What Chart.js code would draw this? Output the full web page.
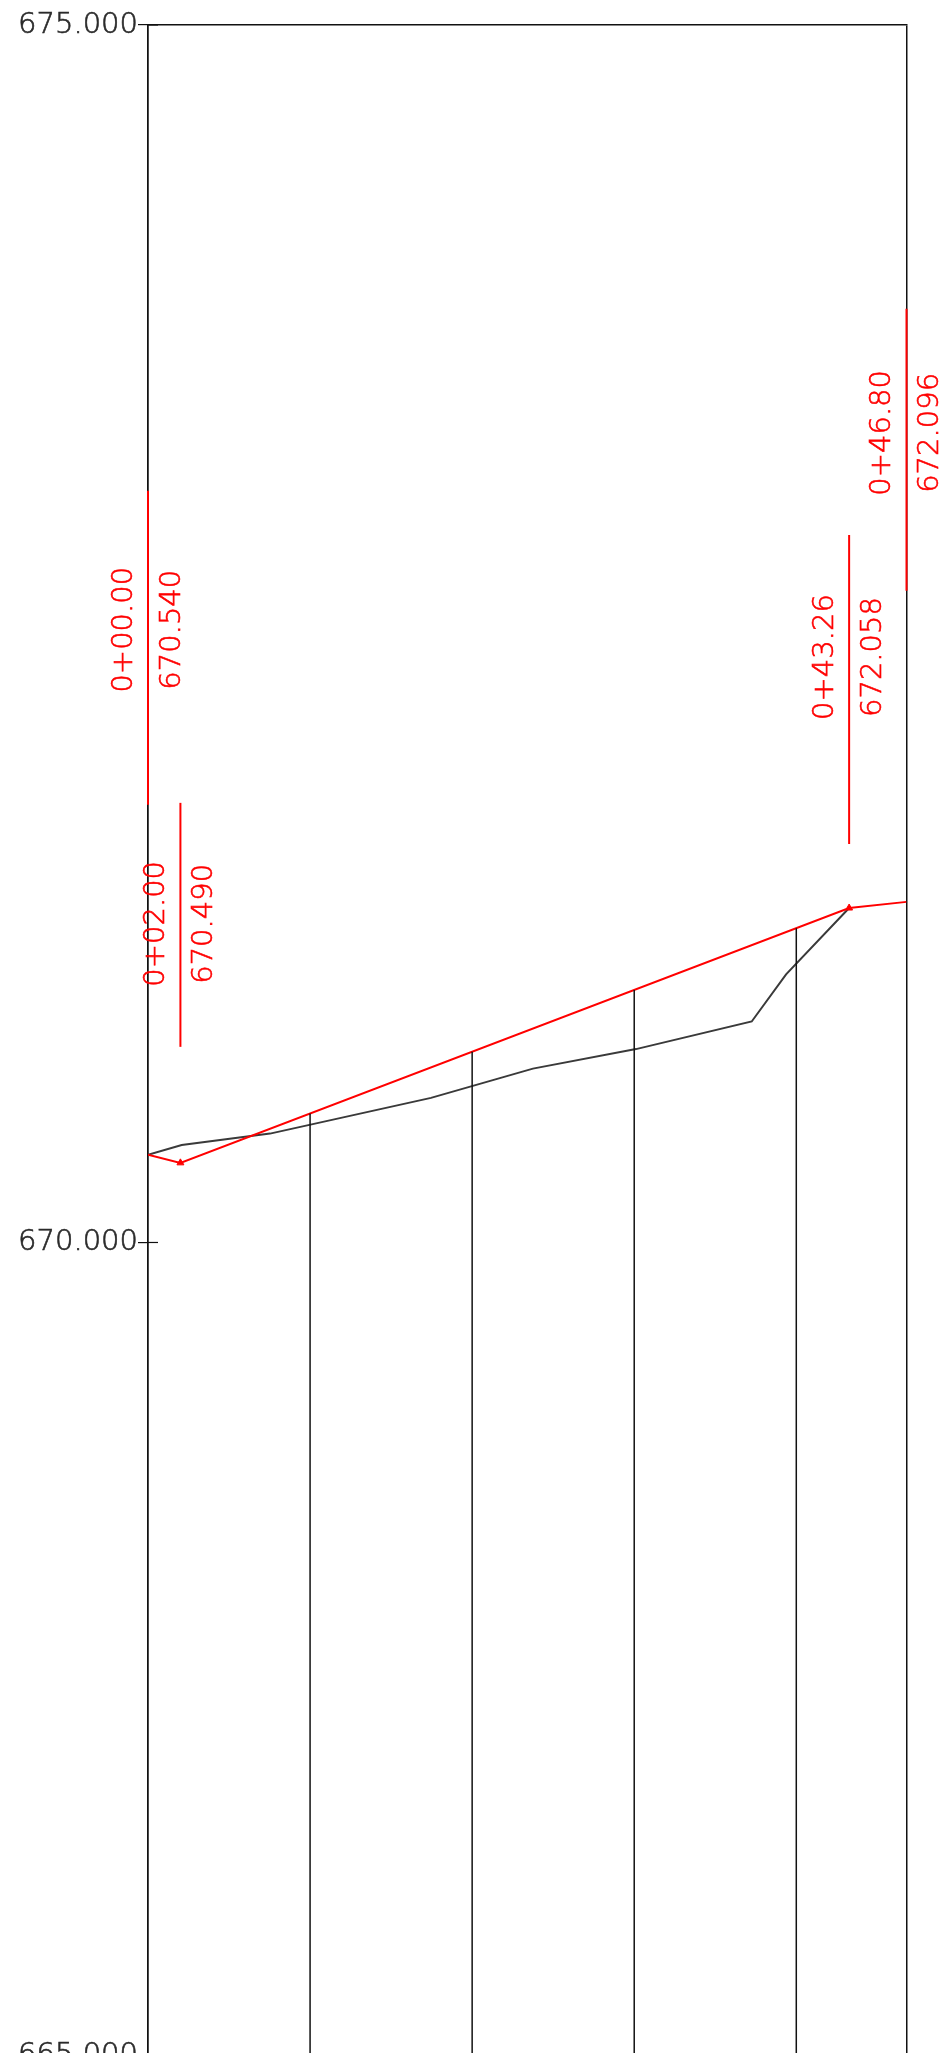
<!DOCTYPE html>
<html>
<head>
<meta charset="utf-8">
<script src="https://cdn.jsdelivr.net/npm/chart.js@4"></script>
<style>
  html, body { margin: 0; padding: 0; background: #fff; overflow: hidden; }
  #wrap { width: 944px; height: 2057px; position: relative; }
</style>
</head>
<body>
<div id="wrap"><canvas id="profile"></canvas></div>
<script>
// 計画線（赤）の測点と標高
const stations = [0, 2.00, 43.26, 46.80];
const designElev = [670.540, 670.490, 672.058, 672.096];

// 現況地盤線（黒）
const groundStations = [0, 2.08, 7.53, 17.46, 23.75, 30.11, 37.25, 39.37, 43.26];
const groundElev = [670.540, 670.600, 670.670, 670.890, 671.070, 671.190, 671.360, 671.650, 672.058];

// 測点の縦線
const stationLines = [10, 20, 30, 40];

// 縦軸ラベル
const yTickLabels = ['665.000', '670.000', '675.000'];

const yMin = 665, yMax = 677.492;
const xMin = 0, xMax = 46.8;

const FONT = "'DejaVu Sans', sans-serif";

function stationText(s) {
  var whole = Math.floor(s / 100);
  var rest = (s - whole * 100).toFixed(2).padStart(5, '0');
  return whole + '+' + rest;
}

// 赤ラベルの配置（点からの上方向オフセット, px）
const labelBoxes = [
  { barTop: 664, barBottom: 350, text: 525 },
  { barTop: 360, barBottom: 116, text: 239 },
  { barTop: 373, barBottom: 64, text: 251 },
  { barTop: 593, barBottom: 311, text: 469 }
];

// 測点縦線・内側目盛・赤ラベル
const profilePlugin = {
  id: 'profilePlugin',
  afterDatasetsDraw(chart) {
    var ctx = chart.ctx;
    var xs = chart.scales.x, ys = chart.scales.y;
    var area = chart.chartArea;
    var pts = chart.getDatasetMeta(0).data;

    // 縦線：計画線から下端まで
    ctx.save();
    ctx.strokeStyle = '#111';
    ctx.lineWidth = 1.5;
    stationLines.forEach(function(s) {
      var px = xs.getPixelForValue(s);
      var top = area.bottom;
      for (var i = 0; i < pts.length - 1; i++) {
        if (px >= pts[i].x && px <= pts[i + 1].x) {
          var t = (px - pts[i].x) / (pts[i + 1].x - pts[i].x);
          top = pts[i].y + t * (pts[i + 1].y - pts[i].y);
        }
      }
      ctx.beginPath();
      ctx.moveTo(px, top);
      ctx.lineTo(px, area.bottom + 5);
      ctx.stroke();
    });

    // 内側の目盛
    ctx.lineWidth = 1.2;
    ys.ticks.forEach(function(t) {
      var py = ys.getPixelForValue(t.value);
      ctx.beginPath();
      ctx.moveTo(area.left, py);
      ctx.lineTo(area.left + 10, py);
      ctx.stroke();
    });
    ctx.restore();

    // 赤ラベル
    ctx.save();
    ctx.strokeStyle = '#ff0000';
    ctx.fillStyle = '#ff0000';
    ctx.font = '200 29px ' + FONT;
    ctx.textAlign = 'center';
    ctx.textBaseline = 'middle';
    stations.forEach(function(s, i) {
      var px = xs.getPixelForValue(s);
      var py = ys.getPixelForValue(designElev[i]);
      var b = labelBoxes[i];
      ctx.lineWidth = 2;
      ctx.beginPath();
      ctx.moveTo(px, py - b.barTop);
      ctx.lineTo(px, py - b.barBottom);
      ctx.stroke();
      ctx.lineWidth = 0.6;
      [[-24, stationText(s)], [24, designElev[i].toFixed(3)]].forEach(function(it) {
        ctx.save();
        ctx.translate(px + it[0], py - b.text);
        ctx.rotate(-Math.PI / 2);
        ctx.fillText(it[1], 0, 0);
        ctx.strokeText(it[1], 0, 0);
        ctx.restore();
      });
    });
    ctx.restore();
  }
};

var ctx = document.getElementById('profile').getContext('2d');
var chart = new Chart(ctx, {
  type: 'line',
  data: {
    datasets: [
      {
        label: '計画線',
        data: stations.map(function(s, i) { return { x: s, y: designElev[i] }; }),
        borderColor: '#ff0000',
        borderWidth: 2,
        pointStyle: 'triangle',
        pointRadius: [0, 4, 4, 0],
        pointBackgroundColor: '#ff0000',
        pointBorderColor: '#ff0000',
        pointBorderWidth: 1,
        tension: 0
      },
      {
        label: '地盤線',
        data: groundStations.map(function(s, i) { return { x: s, y: groundElev[i] }; }),
        borderColor: '#3a3a3a',
        borderWidth: 2,
        pointRadius: 0,
        tension: 0
      }
    ]
  },
  options: {
    responsive: true,
    maintainAspectRatio: false,
    animation: false,
    layout: { padding: { left: 0, top: 25, right: 37.5, bottom: 2 } },
    plugins: {
      legend: { display: false },
      tooltip: { enabled: false }
    },
    scales: {
      x: {
        type: 'linear',
        position: 'top',
        min: xMin,
        max: xMax,
        afterBuildTicks: function(s) { s.ticks = [{ value: xMin }, { value: xMax }]; },
        afterFit: function(s) { s.height = 0; },
        ticks: { display: false },
        grid: { color: '#111', lineWidth: 1.5, drawTicks: false },
        border: { display: true, color: '#111', width: 1.5 }
      },
      y: {
        type: 'linear',
        position: 'left',
        min: yMin,
        max: yMax,
        afterBuildTicks: function(s) {
          s.ticks = [{ value: yMin }, { value: 670 }, { value: yMax }];
        },
        afterFit: function(s) {
          s.width = 148;
          s.paddingTop = 0;
          s.paddingBottom = 0;
        },
        ticks: {
          color: '#2a2a2a',
          textStrokeColor: '#2a2a2a',
          textStrokeWidth: 0.6,
          padding: 0,
          font: { family: FONT, size: 29, weight: '200' },
          callback: function(v, i) { return yTickLabels[i]; }
        },
        grid: { drawOnChartArea: false, tickLength: 10, color: '#111', lineWidth: 1.2 },
        border: { display: true, color: '#111', width: 1.5 }
      }
    }
  },
  plugins: [profilePlugin]
});
</script>
</body>
</html>
